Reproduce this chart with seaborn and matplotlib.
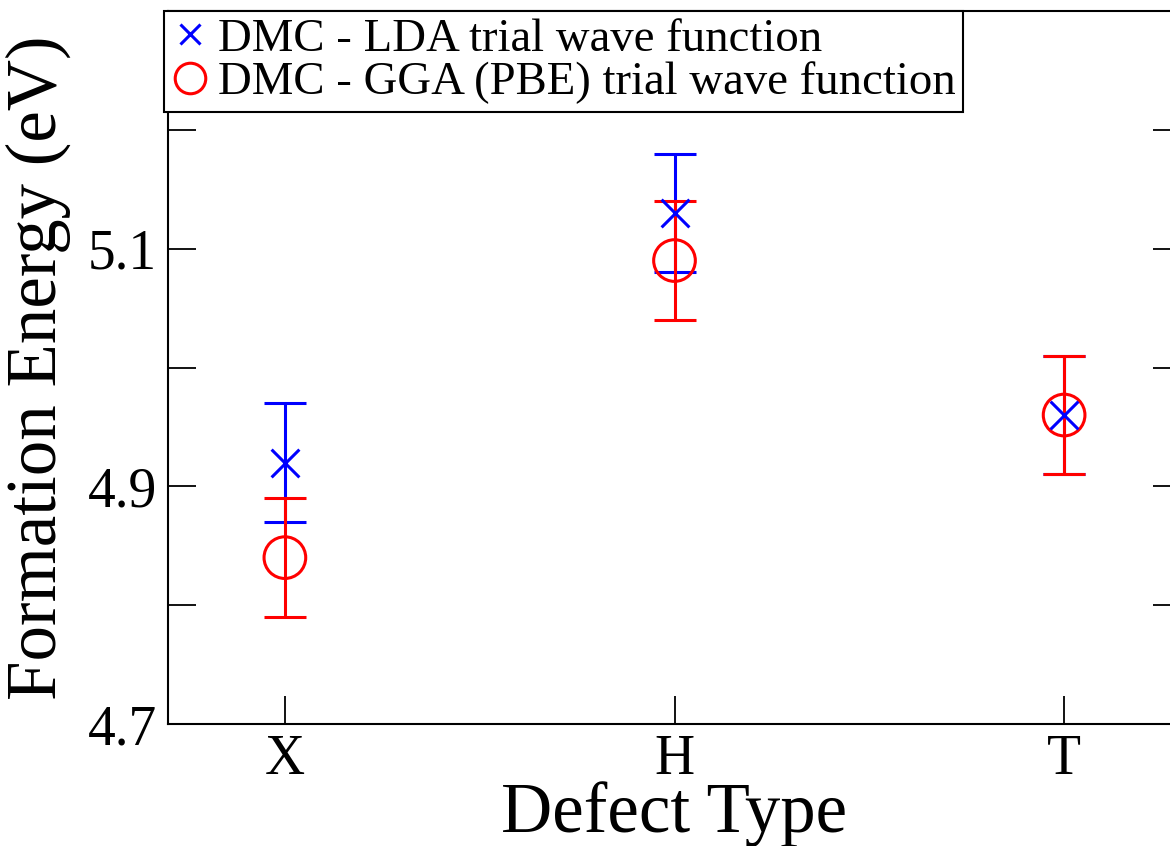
import matplotlib
matplotlib.use("Agg")
import matplotlib.pyplot as plt
from matplotlib.lines import Line2D
import numpy as np
import pandas as pd
import seaborn as sns

# Defect types along the x axis
defects = ["X", "H", "T"]
positions = [1, 2, 3]

# DMC formation energies (eV) and their statistical error bars
lda_energy = [4.92, 5.13, 4.96]
lda_error = [0.05, 0.05, 0.05]
gga_energy = [4.84, 5.09, 4.96]
gga_error = [0.05, 0.05, 0.05]

y_ticks = [4.7, 4.8, 4.9, 5.0, 5.1, 5.2, 5.3]
y_ticklabels = ["4.7", "", "4.9", "", "5.1", "", ""]

lda_label = "DMC - LDA trial wave function"
gga_label = "DMC - GGA (PBE) trial wave function"

sns.set_style("ticks")
plt.rcParams["font.family"] = ["Liberation Serif", "DejaVu Serif"]
plt.rcParams["text.color"] = "black"
plt.rcParams["axes.labelcolor"] = "black"
plt.rcParams["xtick.color"] = "black"
plt.rcParams["ytick.color"] = "black"

lda_df = pd.DataFrame({"pos": positions, "energy": lda_energy, "err": lda_error})
gga_df = pd.DataFrame({"pos": positions, "energy": gga_energy, "err": gga_error})

fig = plt.figure(figsize=(11.7, 8.46), dpi=100)
ax = fig.add_axes([168 / 1170, 122 / 846, 1013 / 1170, 713 / 846])

lw = 2.2
ax.errorbar(lda_df["pos"], lda_df["energy"], yerr=lda_df["err"], fmt="none",
            ecolor="#0000ff", elinewidth=lw, capsize=14.8, capthick=lw, zorder=2)
ax.errorbar(gga_df["pos"], gga_df["energy"], yerr=gga_df["err"], fmt="none",
            ecolor="#ff0000", elinewidth=lw, capsize=14.8, capthick=lw, zorder=3)

sns.scatterplot(data=gga_df, x="pos", y="energy", ax=ax, marker="o", s=900,
                facecolors="none", edgecolor="#ff0000", linewidth=lw, zorder=4,
                legend=False)
sns.scatterplot(data=lda_df, x="pos", y="energy", ax=ax, marker="x", s=400,
                color="#0000ff", linewidth=lw, zorder=5, legend=False)

ax.set_xlim(0.7, 3.3)
ax.set_ylim(4.7, 5.3)
ax.set_xticks(positions)
ax.set_xticklabels(defects)
ax.set_yticks(y_ticks)
ax.set_yticklabels(y_ticklabels)

ax.tick_params(axis="x", direction="in", length=20, width=1.3, labelsize=40,
               pad=7, top=False)
ax.tick_params(axis="y", direction="in", length=20, width=1.3, labelsize=40,
               pad=8, right=True)

for spine in ax.spines.values():
    spine.set_linewidth(1.5)
    spine.set_color("black")

ax.set_xlabel("Defect Type", fontsize=51, labelpad=-3)
ax.set_ylabel("Formation Energy (eV)", fontsize=51, labelpad=12)

handles = [
    Line2D([], [], linestyle="none", marker="x", markersize=15,
           markeredgewidth=lw, color="#0000ff"),
    Line2D([], [], linestyle="none", marker="o", markersize=22,
           markeredgewidth=lw, markerfacecolor="none", markeredgecolor="#ff0000"),
]
leg = fig.legend(handles, [lda_label, gga_label], loc="upper left",
                 bbox_to_anchor=(164 / 1170, 1 - 11 / 846), fontsize=33.7,
                 frameon=True, fancybox=False, framealpha=1, edgecolor="black",
                 borderpad=0.15, labelspacing=0.02, handletextpad=0.2,
                 handlelength=0.8, borderaxespad=0)
leg.get_frame().set_linewidth(1.5)

fig.savefig("out.png", dpi=100)
